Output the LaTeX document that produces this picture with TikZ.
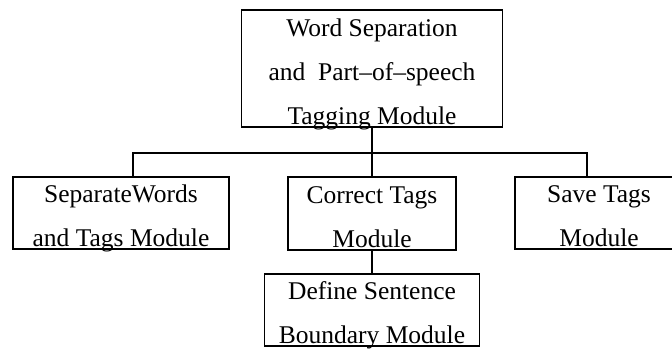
\documentclass[tikz,border=0pt]{standalone}
\usepackage{fontspec}
\setmainfont{Liberation Serif}
\usepackage{tikz}
\newcommand{\modtext}[1]{\raisebox{-9pt}[0pt][0pt]{\begin{tabular}{@{}c@{}}#1\end{tabular}}}

\begin{document}
\begin{tikzpicture}[x=1pt,y=1pt,
	modbox/.style={draw,line width=1.3pt,inner sep=0pt,font=\fontsize{25.5}{44}\selectfont},
	link/.style={line width=1.3pt}]
	\clip (0,0) rectangle (672,350);
	%% module principal
	\node[modbox,minimum width=261pt,minimum height=117pt] (wsp) at (372,281.5)
	{\modtext{Word Separation\\and~~Part--of--speech\\Tagging Module}};
	
	%% sous-modules
	\node[modbox,minimum width=216pt,minimum height=72pt] (sep) at (121,137)
	{\modtext{SeparateWords\\and Tags Module}};
	\node[modbox,minimum width=168pt,minimum height=73pt] (corr) at (372,136.5)
	{\modtext{Correct Tags\\Module}};
	\node[modbox,minimum width=168pt,minimum height=72pt] (save) at (599,137)
	{\modtext{Save Tags\\Module}};
	\node[modbox,minimum width=215pt,minimum height=72pt] (bound) at (372,40)
	{\modtext{Define Sentence\\Boundary Module}};
	
	%% liaisons
	\coordinate (bus) at (372,197);
	\draw[link] (wsp.south) -- (bus);
	\draw[link] ([xshift=12pt]sep.north) |- (bus) -| ([xshift=-12pt]save.north);
	\draw[link] (bus) -- (corr.north);
	\draw[link] (corr.south) -- (bound.north);
\end{tikzpicture}
\end{document}
